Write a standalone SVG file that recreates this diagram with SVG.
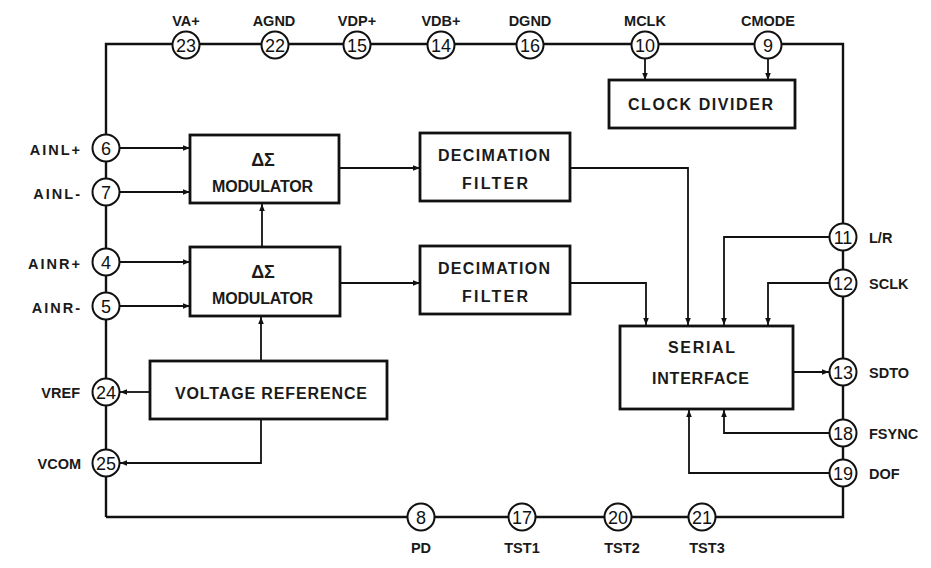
<svg xmlns="http://www.w3.org/2000/svg" width="931" height="568" viewBox="0 0 931 568">
<style>
.frame{fill:none;stroke:#111;stroke-width:2.4}
.wire{fill:none;stroke:#111;stroke-width:1.8}
.box{fill:#fff;stroke:#111;stroke-width:2.8}
.pin{fill:#fff;stroke:#111;stroke-width:2}
.num{font-family:"Liberation Sans",Arial,sans-serif;font-size:18px;fill:#111;text-anchor:middle}
.lbl{font-family:"Liberation Sans",Arial,sans-serif;font-size:14.5px;font-weight:bold;fill:#1a1a1a}
.blk{font-family:"Liberation Sans",Arial,sans-serif;font-size:16px;font-weight:bold;fill:#1a1a1a}
.ds{font-family:"Liberation Sans",Arial,sans-serif;font-size:18px;font-weight:bold;fill:#1a1a1a;text-anchor:middle}
.c{text-anchor:middle}
.r{text-anchor:end}
</style>
<defs>
<marker id="ah" viewBox="0 0 10 10" refX="10" refY="5" markerWidth="8" markerHeight="7" markerUnits="userSpaceOnUse" orient="auto">
<path d="M0,1 L10,5 L0,9 z" fill="#111"/>
</marker>
</defs>
<rect width="931" height="568" fill="#fff"/>
<g id="connectors">
<polyline class="frame" points="106,517 106,44 843,44 843,517 106,517"/>
<line class="wire" x1="645" y1="58" x2="645" y2="80" marker-end="url(#ah)"/>
<line class="wire" x1="768" y1="58" x2="768" y2="80" marker-end="url(#ah)"/>
<line class="wire" x1="119" y1="148" x2="190" y2="148" marker-end="url(#ah)"/>
<line class="wire" x1="119" y1="192" x2="190" y2="192" marker-end="url(#ah)"/>
<line class="wire" x1="119" y1="262" x2="190" y2="262" marker-end="url(#ah)"/>
<line class="wire" x1="119" y1="306" x2="190" y2="306" marker-end="url(#ah)"/>
<line class="wire" x1="262" y1="247" x2="262" y2="204" marker-end="url(#ah)"/>
<line class="wire" x1="261" y1="361" x2="261" y2="317" marker-end="url(#ah)"/>
<line class="wire" x1="339" y1="168" x2="420" y2="168" marker-end="url(#ah)"/>
<line class="wire" x1="340" y1="283" x2="420" y2="283" marker-end="url(#ah)"/>
<polyline class="wire" points="570,168 688,168 688,325" marker-end="url(#ah)"/>
<polyline class="wire" points="570,283 646,283 646,325" marker-end="url(#ah)"/>
<polyline class="wire" points="830,237 724,237 724,325" marker-end="url(#ah)"/>
<polyline class="wire" points="830,283 768,283 768,325" marker-end="url(#ah)"/>
<line class="wire" x1="793" y1="372" x2="829" y2="372" marker-end="url(#ah)"/>
<polyline class="wire" points="830,433 724,433 724,410" marker-end="url(#ah)"/>
<polyline class="wire" points="830,473 689,473 689,410" marker-end="url(#ah)"/>
<line class="wire" x1="150" y1="392" x2="120" y2="392" marker-end="url(#ah)"/>
<polyline class="wire" points="261,419 261,463 120,463" marker-end="url(#ah)"/>
</g>
<g id="pin23"><circle class="pin" cx="186" cy="45" r="13.5"/><text class="num" x="186" y="51.5">23</text><text class="lbl c" x="186" y="26">VA+</text></g>
<g id="pin22"><circle class="pin" cx="275" cy="45" r="13.5"/><text class="num" x="275" y="51.5">22</text><text class="lbl c" x="274" y="26">AGND</text></g>
<g id="pin15"><circle class="pin" cx="357" cy="45" r="13.5"/><text class="num" x="357" y="51.5">15</text><text class="lbl c" x="357" y="26">VDP+</text></g>
<g id="pin14"><circle class="pin" cx="441" cy="45" r="13.5"/><text class="num" x="441" y="51.5">14</text><text class="lbl c" x="441" y="26">VDB+</text></g>
<g id="pin16"><circle class="pin" cx="530" cy="45" r="13.5"/><text class="num" x="530" y="51.5">16</text><text class="lbl c" x="530" y="26">DGND</text></g>
<g id="pin10"><circle class="pin" cx="645" cy="45" r="13.5"/><text class="num" x="645" y="51.5">10</text><text class="lbl c" x="645" y="26">MCLK</text></g>
<g id="pin9"><circle class="pin" cx="768" cy="45" r="13.5"/><text class="num" x="768" y="51.5">9</text><text class="lbl c" x="768" y="26">CMODE</text></g>
<g id="pin6"><circle class="pin" cx="106" cy="148" r="13.5"/><text class="num" x="106" y="154.5">6</text><text class="lbl r" x="82" y="155" letter-spacing="2">AINL+</text></g>
<g id="pin7"><circle class="pin" cx="106" cy="192" r="13.5"/><text class="num" x="106" y="198.5">7</text><text class="lbl r" x="82" y="199" letter-spacing="2">AINL-</text></g>
<g id="pin4"><circle class="pin" cx="106" cy="262" r="13.5"/><text class="num" x="106" y="268.5">4</text><text class="lbl r" x="82" y="269" letter-spacing="2">AINR+</text></g>
<g id="pin5"><circle class="pin" cx="106" cy="306" r="13.5"/><text class="num" x="106" y="312.5">5</text><text class="lbl r" x="82" y="313" letter-spacing="2">AINR-</text></g>
<g id="pin24"><circle class="pin" cx="106" cy="392" r="13.5"/><text class="num" x="106" y="398.5">24</text><text class="lbl r" x="80" y="398">VREF</text></g>
<g id="pin25"><circle class="pin" cx="106" cy="463" r="13.5"/><text class="num" x="106" y="469.5">25</text><text class="lbl r" x="81" y="469">VCOM</text></g>
<g id="pin11"><circle class="pin" cx="843" cy="237" r="13.5"/><text class="num" x="843" y="243.5">11</text><text class="lbl" x="869" y="243">L/R</text></g>
<g id="pin12"><circle class="pin" cx="843" cy="283" r="13.5"/><text class="num" x="843" y="289.5">12</text><text class="lbl" x="869" y="289">SCLK</text></g>
<g id="pin13"><circle class="pin" cx="843" cy="372" r="13.5"/><text class="num" x="843" y="378.5">13</text><text class="lbl" x="869" y="378">SDTO</text></g>
<g id="pin18"><circle class="pin" cx="843" cy="433" r="13.5"/><text class="num" x="843" y="439.5">18</text><text class="lbl" x="869" y="439">FSYNC</text></g>
<g id="pin19"><circle class="pin" cx="843" cy="473" r="13.5"/><text class="num" x="843" y="479.5">19</text><text class="lbl" x="869" y="479">DOF</text></g>
<g id="pin8"><circle class="pin" cx="421" cy="517" r="13.5"/><text class="num" x="421" y="523.5">8</text><text class="lbl c" x="421" y="553">PD</text></g>
<g id="pin17"><circle class="pin" cx="522" cy="517" r="13.5"/><text class="num" x="522" y="523.5">17</text><text class="lbl c" x="522" y="553">TST1</text></g>
<g id="pin20"><circle class="pin" cx="618" cy="517" r="13.5"/><text class="num" x="618" y="523.5">20</text><text class="lbl c" x="622" y="553">TST2</text></g>
<g id="pin21"><circle class="pin" cx="702" cy="517" r="13.5"/><text class="num" x="702" y="523.5">21</text><text class="lbl c" x="707" y="553">TST3</text></g>
<g id="clockdiv"><rect class="box" x="609" y="80" width="186" height="48"/><text class="blk" x="628" y="110" textLength="145">CLOCK DIVIDER</text></g>
<g id="mod1"><rect class="box" x="190" y="135" width="149" height="68"/><text class="ds" x="263" y="166">ΔΣ</text><text class="blk" x="212" y="192" textLength="101">MODULATOR</text></g>
<g id="mod2"><rect class="box" x="190" y="247" width="150" height="69"/><text class="ds" x="263" y="278">ΔΣ</text><text class="blk" x="212" y="304" textLength="101">MODULATOR</text></g>
<g id="dec1"><rect class="box" x="420" y="133" width="150" height="68"/><text class="blk" x="438" y="161" textLength="112">DECIMATION</text><text class="blk" x="462" y="189" textLength="66">FILTER</text></g>
<g id="dec2"><rect class="box" x="420" y="246" width="150" height="68"/><text class="blk" x="438" y="274" textLength="112">DECIMATION</text><text class="blk" x="462" y="302" textLength="66">FILTER</text></g>
<g id="serial"><rect class="box" x="620" y="326" width="173" height="83"/><text class="blk" x="668" y="353" textLength="67">SERIAL</text><text class="blk" x="652" y="384" textLength="97">INTERFACE</text></g>
<g id="vref"><rect class="box" x="150" y="361" width="237" height="58"/><text class="blk" x="175" y="399" textLength="192">VOLTAGE REFERENCE</text></g>
</svg>
